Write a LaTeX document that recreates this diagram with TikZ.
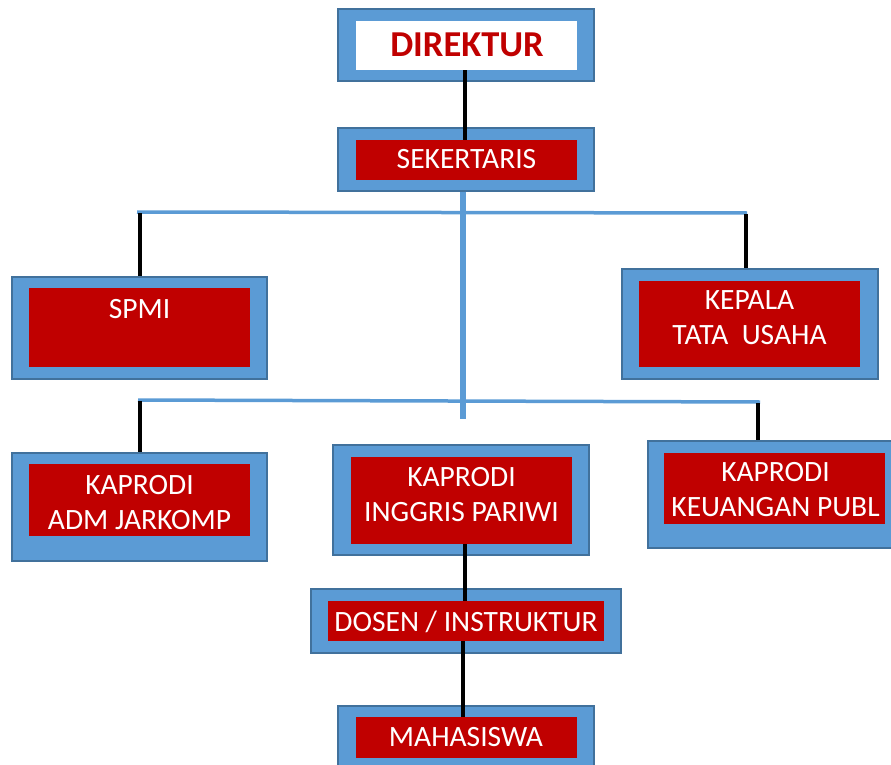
\documentclass[tikz,border=0pt]{standalone}
\usepackage{fontspec}
\setmainfont{Carlito}
\usetikzlibrary{calc}
\definecolor{bfill}{HTML}{5B9BD5}
\definecolor{bdraw}{HTML}{41719C}
\definecolor{kred}{HTML}{C00000}
\tikzset{
  outerbox/.style={rectangle, fill=bfill, draw=bdraw, line width=1.3pt, inner sep=0pt},
  innerbox/.style={rectangle, fill=kred, inner sep=0pt},
  whitebox/.style={rectangle, fill=white, inner sep=0pt},
  txt/.style={text=white, align=center, inner sep=0pt, text depth=0pt, font=\fontsize{29.5}{35}\selectfont},
  bluelink/.style={draw=bfill, line width=3.5pt},
  trunk/.style={draw=bfill, line width=6pt},
  blacklink/.style={draw=black, line width=4pt},
}
\begin{document}
\begin{tikzpicture}[x=1pt,y=-1pt]
\useasboundingbox (0,0) rectangle (891,765);
% boxes
\node[outerbox, minimum width=256, minimum height=72] (dirout) at (466,45) {};
\node[whitebox, minimum width=221, minimum height=49] (dirin) at (466.5,45.5) {};
\node[inner sep=0pt, text depth=0pt, text=kred, font=\bfseries\fontsize{36.5}{40}\selectfont] (tdir) at (467,45) {DIREKTUR};

\node[outerbox, minimum width=256, minimum height=63] (sekout) at (466,159.5) {};
\node[innerbox, minimum width=221, minimum height=40] (sekin) at (466.5,160) {};
\node[txt] (tsek) at (466.5,159) {SEKERTARIS};

\node[outerbox, minimum width=255, minimum height=102] (spmiout) at (139.5,328) {};
\node[innerbox, minimum width=221, minimum height=79] (spmiin) at (139.5,327.5) {};
\node[txt] (tspmi) at (139.5,308.5) {SPMI};

\node[outerbox, minimum width=256, minimum height=110] (kepout) at (750,324) {};
\node[innerbox, minimum width=221, minimum height=86] (kepin) at (749.5,324) {};
\node[txt] (tkep) at (749.5,318) {KEPALA\\TATA\ \ USAHA};

\node[outerbox, minimum width=255, minimum height=108] (admout) at (139.5,507) {};
\node[innerbox, minimum width=221, minimum height=72] (admin) at (139.5,500) {};
\node[txt] (tadm) at (139.5,502) {KAPRODI\\ADM JARKOMP};

\node[outerbox, minimum width=256, minimum height=110] (ingout) at (461,500) {};
\node[innerbox, minimum width=221, minimum height=87] (ingin) at (461.5,500.5) {};
\node[txt] (ting) at (461.5,494.5) {KAPRODI\\INGGRIS PARIWI};

\node[outerbox, minimum width=254, minimum height=107] (keuout) at (775,494.5) {};
\node[innerbox, minimum width=221, minimum height=71] (keuin) at (774.5,488.5) {};
\node[txt] (tkeu) at (775.5,489.5) {KAPRODI\\KEUANGAN PUBL};

\node[outerbox, minimum width=310, minimum height=64] (dosout) at (466,621) {};
\node[innerbox, minimum width=276, minimum height=40] (dosin) at (466,621) {};
\node[txt] (tdos) at (466,621) {DOSEN / INSTRUKTUR};

\node[outerbox, minimum width=256, minimum height=63] (mhsout) at (466,737.5) {};
\node[innerbox, minimum width=221, minimum height=41] (mhsin) at (466.5,737.5) {};
\node[txt] (tmhs) at (466,737) {MAHASISWA};

% connector coordinates
\coordinate (h1l) at (137,212);
\coordinate (h1r) at (747,213);
\coordinate (h2l) at (138,400);
\coordinate (h2r) at (760,402);
\coordinate (trunkend) at (463,419);

% blue lines
\draw[trunk] (sekout.south -| trunkend) -- (trunkend);
\draw[bluelink] (h1l) -- (h1r);
\draw[bluelink] (h2l) -- (h2r);

% black lines
\draw[blacklink] (465,0 |- dirin.south) -- (465,0 |- sekin.north);
\draw[blacklink] (140,213) -- (140,0 |- spmiout.north);
\draw[blacklink] (746,214) -- (746,0 |- kepout.north);
\draw[blacklink] (140,401) -- (140,0 |- admout.north);
\draw[blacklink] (758,403) -- (758,0 |- keuout.north);
\draw[blacklink] (465,0 |- ingin.south) -- (465,0 |- dosin.north);
\draw[blacklink] (463,0 |- dosin.south) -- (463,0 |- mhsin.north);
\end{tikzpicture}
\end{document}
